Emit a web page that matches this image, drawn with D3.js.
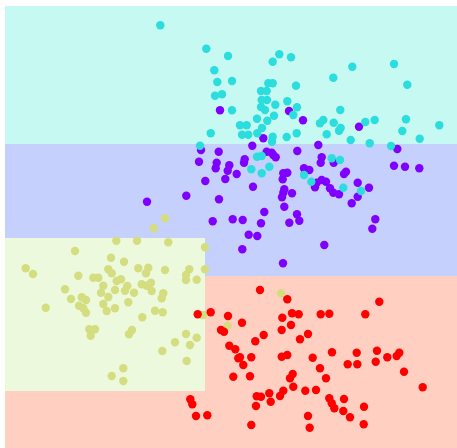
<!DOCTYPE html>
<html>
<head>
<meta charset="utf-8">
<script src="https://cdn.jsdelivr.net/npm/d3@7"></script>
<style>
  html, body { margin: 0; padding: 0; background: #ffffff; }
  svg { display: block; }
</style>
</head>
<body>
<div id="chart"></div>
<script>
// ---- data (feature 1 = horizontal, feature 2 = vertical) ----
const classes = ["class 0", "class 1", "class 2", "class 3"];
const classColors = ["#8000ff", "#2bdddd", "#d4dd80", "#ff0000"];
const regionColors = ["#4062fa", "#40ecd4", "#bfec8e", "#ff6232"];

// decision-tree split thresholds
const splitY1 = 144;     // class 1 above, class 0 below
const splitY2 = 275.7;   // class 0 above, class 3 below (right branch)
const splitX = 205;      // left branch boundary for class 2 box
const boxTop = 238;      // class 2 box top
const boxBottom = 391;   // class 2 box bottom

const xDomain = [5, 457];
const yDomain = [5.5, 448];

const class0 = [
  [220,110.3],[289,111],[303,120.3],[359,126.7],[263.3,138.3],[252.3,145.7],[318.3,145],[397.3,149],
  [201,150],[218.7,151.7],[199,161.7],[216.7,162.7],[215.7,168.3],[229.3,165.3],[227.7,170.7],
  [244.7,159.3],[244,162.7],[236.7,174],[225.3,179],[205.3,181],[266.7,151.7],[271.7,152.7],
  [275.7,157.3],[273.3,155],[297.3,151],[321.7,157.3],[320.7,162.7],[333.7,162.7],[394,165.7],
  [405,166.7],[419.3,168.3],[283.3,173.3],[287.3,172.7],[282.7,179.3],[304,168.3],[309.3,170],
  [344,174],[346,171.7],[321.7,180],[316.7,182.7],[326,181.7],[315,187.3],[330,188.3],[333.3,192.7],
  [339,194.3],[357.7,182.7],[369,187.7],[253,186.7],[284.3,189.3],[283.3,192.7],[292,193.3],
  [282,197.3],[186.3,195.7],[219,199.3],[147,201.7],[351.7,203.3],[357.7,196.7],[284.3,206.7],
  [264.3,212],[212.7,221.3],[232.7,219.3],[242.7,220],[261,223.3],[297,214.3],[299.3,220.7],
  [289.3,222.7],[375.3,219.3],[372.3,228.7],[248.7,234.7],[257.3,236],[242.3,249.3],[324.3,245],
  [283,263.3]
];
const class1 = [
  [160.3,25.3],[206.3,48.7],[228,56],[279.3,54.3],[272.7,61.7],[291,57.3],[214.3,70.3],[217.3,82],
  [232,81],[215,95.7],[222,94.3],[268.3,83.3],[272.7,83.3],[296,85.7],[261,91],[266.7,91],
  [261.7,100],[267,100],[261,107],[265,110],[275.3,104.7],[287.3,101.3],[297,107.3],[293.3,115],
  [232,110.3],[274,115.7],[257,118.7],[267.3,120.7],[240,125.3],[246.7,125.3],[262,128],
  [242,134.7],[248.3,134.7],[257.3,133.3],[272.7,136.7],[272,141.7],[286.7,137],[296.7,133.3],
  [210.7,133.3],[200,145.7],[352.3,66.7],[394,64],[333.3,77.7],[407.3,84.7],[340.3,110],
  [323.3,120],[320,123.3],[333.7,122.7],[339,130.7],[340.7,128],[326.7,134.3],[365.3,122],
  [374.7,120],[406,119.3],[402.3,131],[439.3,125.3],[350.7,140],[369.7,143.3],[391,146],
  [419.7,138.7],[257,156.7],[261.7,156],[251.3,169.3],[261.7,173.3],[269.3,166.7],[331.7,158.3],
  [340,160],[304,175],[311.3,181.7],[343.3,187.7],[361,191]
];
const class2 = [
  [165,218.3],[153.7,228.3],[116.3,240.7],[137,240.7],[168.3,242.3],[205,247.3],[75,251],
  [111,257.7],[124,261.7],[25.7,268.3],[33,274],[138.3,268.3],[148.3,267.7],[146,273.3],[165,270],
  [189.3,269.3],[186,275],[186,280],[196.7,279.7],[205,269.3],[108.3,269.3],[111.7,273.3],
  [78.3,275.7],[93.3,277.7],[98.3,277.7],[116.7,281],[121,279.3],[103.3,285.7],[127.3,286],
  [125,290.7],[141.7,284.3],[146.7,285.7],[151,282.7],[151.7,291],[115,290],[134,292.7],
  [101,292.7],[108.3,297],[163.3,293.3],[161.7,298.3],[65,289.3],[71,299],[81.7,297.3],[86,300],
  [128.3,302.3],[103.3,304],[79,305.7],[83.3,308.3],[86,312.7],[106.7,311],[115,308.3],
  [45.7,307.7],[155,310.7],[162.7,312.3],[142.3,317.3],[89.3,329.3],[95,329.3],[90.7,335.7],
  [132,330],[129,334.3],[186,334],[196.7,337.7],[175,342.3],[190,345],[162.3,351],[186.7,361],
  [123.3,368.3],[111.7,376],[123.3,381],[203.3,315],[281,293.3],[227.7,325.7],[201.7,315]
];
const class3 = [
  [260,290],[287.3,299.3],[379.3,301.7],[197.7,314.3],[210.7,312.3],[228,316],[242,322.7],
  [282.3,317.7],[292,313.3],[298.7,314.3],[291,325],[281.7,330],[320.7,314.3],[329.3,313.7],
  [365.3,314.3],[221,330],[224,331.7],[263.7,335],[255.3,341.3],[308,334],[300,339.3],
  [229.3,345.7],[235.3,349.3],[240,357.3],[238.3,358.3],[243.3,365],[251.3,357.3],[281.7,356.7],
  [287.3,355],[312.7,357.7],[332,352.3],[356.7,352.7],[347.7,364.3],[357.3,364.3],[377,350.7],
  [375.7,361.7],[387.3,357.3],[396.7,356],[399.3,352.7],[404,371.7],[233.3,376.7],[250,376.3],
  [292.7,374],[290,378.3],[293.3,386.7],[320,368.3],[326,378.3],[422.7,387.3],[190.3,399.3],
  [192.3,404.3],[256.7,396.3],[261,396.7],[256,406],[269.3,393.3],[270.7,401.7],[280,396],
  [283.3,390.7],[305.3,390.7],[316,390],[329.3,398.3],[331.7,403.3],[334.3,408.3],[344,399],
  [343.3,411],[350,417.3],[364,406.7],[196,416],[207.3,415.3],[251.3,425],[308,416],[309.7,427.7],
  [363.7,424.3]
];

// ---- drawing ----
const W = 457, H = 448;
const plot = { left: 5, top: 5.5, right: 457, bottom: 448 };

const x = d3.scaleLinear().domain(xDomain).range([plot.left, plot.right]);
const y = d3.scaleLinear().domain(yDomain).range([plot.top, plot.bottom]);

const svg = d3.select("#chart").append("svg")
  .attr("width", W).attr("height", H);

svg.append("rect").attr("width", W).attr("height", H).attr("fill", "#ffffff");

// decision regions (non-overlapping leaves of the tree)
const regions = [
  { c: 1, x0: xDomain[0], x1: xDomain[1], y0: yDomain[0], y1: splitY1 },
  { c: 0, x0: xDomain[0], x1: xDomain[1], y0: splitY1, y1: boxTop },
  { c: 0, x0: splitX, x1: xDomain[1], y0: boxTop, y1: splitY2 },
  { c: 3, x0: splitX, x1: xDomain[1], y0: splitY2, y1: yDomain[1] },
  { c: 2, x0: xDomain[0], x1: splitX, y0: boxTop, y1: boxBottom },
  { c: 3, x0: xDomain[0], x1: splitX, y0: boxBottom, y1: yDomain[1] },
];
const g = svg.append("g");
g.selectAll("rect.region").data(regions).join("rect")
  .attr("class", "region")
  .attr("x", d => x(d.x0))
  .attr("y", d => y(d.y0))
  .attr("width", d => x(d.x1) - x(d.x0))
  .attr("height", d => y(d.y1) - y(d.y0))
  .attr("fill", d => regionColors[d.c])
  .attr("fill-opacity", 0.3)
  .attr("shape-rendering", "crispEdges");

// points
const sets = [class0, class1, class2, class3];
const pts = svg.append("g");
sets.forEach((arr, ci) => {
  pts.selectAll(null).data(arr).join("circle")
    .attr("cx", d => x(d[0]))
    .attr("cy", d => y(d[1]))
    .attr("r", 4.2)
    .attr("fill", classColors[ci]);
});
</script>
</body>
</html>
